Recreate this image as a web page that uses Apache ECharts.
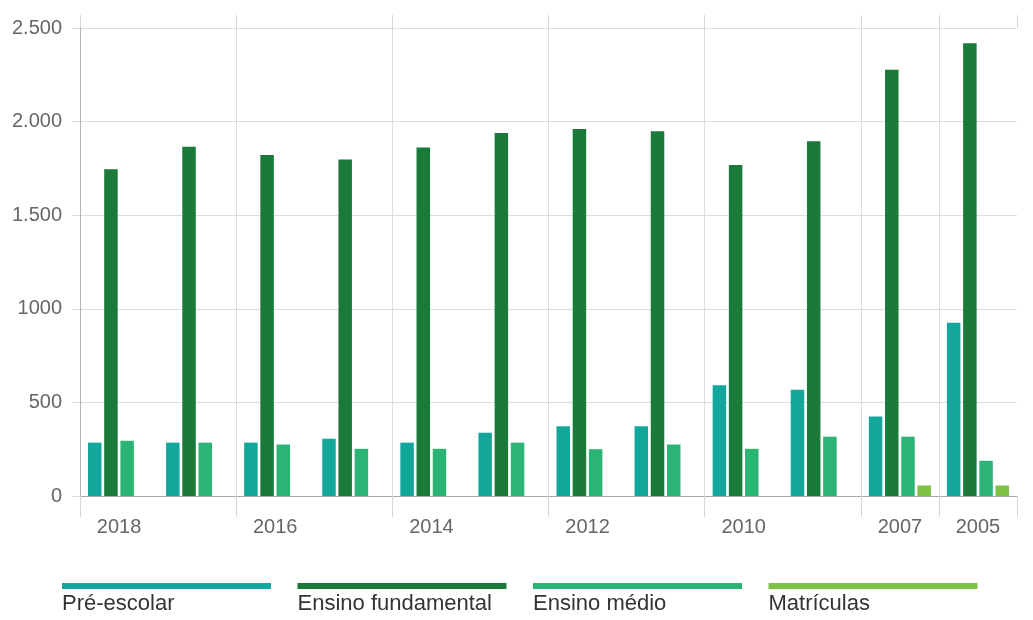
<!DOCTYPE html>
<html lang="pt">
<head>
<meta charset="utf-8">
<title>Matrículas por etapa de ensino</title>
<script src="https://cdn.jsdelivr.net/npm/echarts@6/dist/echarts.min.js"></script>
<style>
  html, body { margin: 0; padding: 0; background: #ffffff; }
  #chart { width: 1033px; height: 620px; }
</style>
</head>
<body>
<div id="chart"></div>
<script>
// Years on the horizontal axis (most recent first)
const categories = ['2018', '2017', '2016', '2015', '2014', '2013', '2012', '2011', '2010', '2009', '2007', '2005'];
// Years that carry a label and a divider line
const labelledYears = ['2018', '2016', '2014', '2012', '2010', '2007', '2005'];

const seriesNames = ['Pré-escolar', 'Ensino fundamental', 'Ensino médio', 'Matrículas'];
const seriesColors = ['#13A79B', '#1A7A3A', '#2AB574', '#7DC243'];

const preEscolar = [285, 285, 285, 306, 285, 338, 372, 372, 591, 568, 425, 925];
const ensinoFundamental = [1745, 1865, 1821, 1798, 1862, 1939, 1960, 1949, 1768, 1895, 2277, 2418];
const ensinoMedio = [295, 285, 275, 252, 252, 285, 250, 275, 252, 317, 317, 188];
const matriculas = [null, null, null, null, null, null, null, null, null, null, 56, 56];

// Value-axis tick labels, one per 500 step
const yTickLabels = ['0', '500', '1000', '1.500', '2.000', '2.500'];

const FONT = "'Liberation Sans', Arial, Helvetica, sans-serif";
const isLabelled = (index) => labelledYears.indexOf(categories[index]) !== -1;

const chart = echarts.init(document.getElementById('chart'), null, { renderer: 'canvas' });

const seriesData = [preEscolar, ensinoFundamental, ensinoMedio, matriculas];

// Bottom legend: a coloured strip with the name underneath
const legendGraphics = [];
seriesNames.forEach((name, i) => {
  const left = 62 + i * 235.5;
  legendGraphics.push({
    type: 'rect',
    left: left, top: 583,
    shape: { width: 209, height: 6 },
    style: { fill: seriesColors[i] },
    silent: true
  });
  legendGraphics.push({
    type: 'text',
    left: left, top: 593,
    style: {
      text: name,
      fill: '#333333',
      font: '22px ' + FONT
    },
    silent: true
  });
});

chart.setOption({
  animation: false,
  backgroundColor: '#ffffff',
  grid: { left: 80, right: 16, top: 28, bottom: 124, containLabel: false },
  xAxis: [
    {
      type: 'category',
      data: categories,
      position: 'bottom',
      axisLine: { show: true, lineStyle: { color: '#a8a8a8', width: 1 } },
      axisTick: { show: true, length: 21, interval: isLabelled, lineStyle: { color: '#d6d6d6' } },
      axisLabel: {
        interval: isLabelled,
        margin: 21,
        fontSize: 20,
        fontFamily: FONT,
        color: '#666666'
      },
      splitLine: {
        show: true,
        interval: isLabelled,
        showMaxLine: false,
        lineStyle: { color: '#dcdcdc', width: 1 }
      }
    },
    {
      type: 'category',
      data: categories,
      position: 'top',
      axisLine: { show: false },
      axisTick: { show: true, length: 13, interval: isLabelled, lineStyle: { color: '#d6d6d6' } },
      axisLabel: { show: false },
      splitLine: { show: false }
    }
  ],
  yAxis: {
    type: 'value',
    min: 0,
    max: 2500,
    interval: 500,
    axisLine: { show: true, lineStyle: { color: '#b4b4b4', width: 1 } },
    axisTick: { show: true, length: 8, lineStyle: { color: '#dcdcdc' } },
    axisLabel: {
      margin: 18,
      fontSize: 20,
      fontFamily: FONT,
      color: '#666666',
      padding: [0, 0, 5, 0],
      formatter: (v) => yTickLabels[Math.round(v / 500)]
    },
    splitLine: { show: true, lineStyle: { color: '#dcdcdc', width: 1 } }
  },
  series: seriesNames.map((name, i) => ({
    name: name,
    type: 'bar',
    xAxisIndex: 0,
    data: seriesData[i],
    barWidth: 13.5,
    barGap: '20%',
    itemStyle: { color: seriesColors[i] }
  })),
  graphic: legendGraphics
});
</script>
</body>
</html>
